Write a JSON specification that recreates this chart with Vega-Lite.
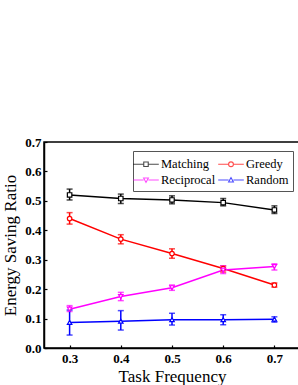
{
  "$schema": "https://vega.github.io/schema/vega-lite/v6.json",
  "autosize": "none",
  "width": 256,
  "height": 206,
  "padding": {"left": 44, "top": 142, "right": 0, "bottom": 37},
  "background": "white",
  "config": {
    "font": "Liberation Serif",
    "view": {"stroke": "black", "strokeWidth": 1.5},
    "axis": {
      "domainColor": "black", "domainWidth": 1.5, "tickColor": "black", "tickWidth": 1.2,
      "grid": false, "labelFont": "Liberation Serif", "labelFontWeight": "bold", "labelFontSize": 13,
      "labelColor": "black", "titleFont": "Liberation Serif", "titleFontWeight": "normal",
      "titleFontSize": 17, "titleColor": "black"
    },
    "legend": {"labelFont": "Liberation Serif"}
  },
  "data": {"values": [
    {"x": 0.3, "series": "Matching", "y": 0.520, "lo": 0.503, "hi": 0.540},
    {"x": 0.4, "series": "Matching", "y": 0.508, "lo": 0.491, "hi": 0.523},
    {"x": 0.5, "series": "Matching", "y": 0.503, "lo": 0.490, "hi": 0.517},
    {"x": 0.6, "series": "Matching", "y": 0.494, "lo": 0.483, "hi": 0.508},
    {"x": 0.7, "series": "Matching", "y": 0.469, "lo": 0.457, "hi": 0.483},
    {"x": 0.3, "series": "Greedy", "y": 0.440, "lo": 0.421, "hi": 0.460},
    {"x": 0.4, "series": "Greedy", "y": 0.370, "lo": 0.354, "hi": 0.385},
    {"x": 0.5, "series": "Greedy", "y": 0.321, "lo": 0.305, "hi": 0.337},
    {"x": 0.6, "series": "Greedy", "y": 0.270, "lo": 0.258, "hi": 0.279},
    {"x": 0.7, "series": "Greedy", "y": 0.214, "lo": 0.207, "hi": 0.221},
    {"x": 0.3, "series": "Reciprocal", "y": 0.132, "lo": 0.124, "hi": 0.144},
    {"x": 0.4, "series": "Reciprocal", "y": 0.175, "lo": 0.161, "hi": 0.189},
    {"x": 0.5, "series": "Reciprocal", "y": 0.205, "lo": 0.196, "hi": 0.214},
    {"x": 0.6, "series": "Reciprocal", "y": 0.265, "lo": 0.253, "hi": 0.279},
    {"x": 0.7, "series": "Reciprocal", "y": 0.277, "lo": 0.265, "hi": 0.286},
    {"x": 0.3, "series": "Random", "y": 0.087, "lo": 0.044, "hi": 0.129},
    {"x": 0.4, "series": "Random", "y": 0.091, "lo": 0.061, "hi": 0.127},
    {"x": 0.5, "series": "Random", "y": 0.096, "lo": 0.078, "hi": 0.118},
    {"x": 0.6, "series": "Random", "y": 0.096, "lo": 0.079, "hi": 0.113},
    {"x": 0.7, "series": "Random", "y": 0.098, "lo": 0.088, "hi": 0.106}
  ]},
  "encoding": {
    "x": {"field": "x", "type": "quantitative", "title": "Task Frequency",
      "scale": {"domain": [0.25, 0.75], "nice": false, "zero": false},
      "axis": {"values": [0.3, 0.4, 0.5, 0.6, 0.7], "format": ".1f", "tickSize": -3, "labelPadding": 7, "titlePadding": 3, "labelFlush": false, "labelFontSize": 13, "labelFontWeight": "bold"}},
    "y": {"field": "y", "type": "quantitative", "title": "Energy Saving Ratio",
      "scale": {"domain": [0, 0.7], "nice": false},
      "axis": {"values": [0, 0.1, 0.2, 0.3, 0.4, 0.5, 0.6, 0.7], "format": ".1f", "tickSize": -3, "labelPadding": 6, "titlePadding": 5, "labelFlush": false, "labelFontSize": 13, "labelFontWeight": "bold"}}
  },
  "layer": [
    {
      "transform": [{"filter": "false"}],
      "mark": {"type": "point", "filled": false, "strokeWidth": 1.1},
      "encoding": {
        "stroke": {"field": "series", "type": "nominal",
          "scale": {"domain": ["Matching", "Greedy", "Reciprocal", "Random"], "range": ["black", "#ff0000", "#ff00ff", "#0000ff"]},
          "legend": {"title": null, "orient": "none", "direction": "horizontal", "legendX": 89, "legendY": 9, "columns": 2,
            "columnPadding": 0, "rowPadding": -1, "padding": 4, "strokeColor": "#555555", "fillColor": "white",
            "symbolSize": 256, "symbolStrokeWidth": 1.1, "symbolFillColor": "white", "labelFont": "Liberation Serif", "labelFontSize": 12.5,
            "labelColor": "black", "labelOffset": 6}},
        "shape": {"field": "series", "type": "nominal",
          "scale": {"domain": ["Matching", "Greedy", "Reciprocal", "Random"],
            "range": [
              "M-1.6,0H-0.28M0.28,0H1.6M-0.28,-0.28H0.28V0.28H-0.28ZM-0.28,-0.28V0.28H0.28V-0.28Z",
              "M-1.6,0H-0.3M0.3,0H1.6M-0.3,0A0.3,0.3 0 1,0 0.3,0A0.3,0.3 0 1,0 -0.3,0ZM-0.3,0A0.3,0.3 0 1,1 0.3,0A0.3,0.3 0 1,1 -0.3,0Z",
              "M-1.6,0H-0.3M0.3,0H1.6M-0.3,-0.25L0.3,-0.25L0,0.3ZM-0.3,-0.25L0,0.3L0.3,-0.25Z",
              "M-1.6,0H-0.3M0.3,0H1.6M-0.3,0.25L0.3,0.25L0,-0.3ZM-0.3,0.25L0,-0.3L0.3,0.25Z"
            ]}}
      }
    },
    {
      "mark": {"type": "line", "strokeWidth": 1.5},
      "encoding": {
        "color": {"field": "series", "type": "nominal", "legend": null,
          "scale": {"domain": ["Matching", "Greedy", "Reciprocal", "Random"], "range": ["black", "#ff0000", "#ff00ff", "#0000ff"]}}
      }
    },
    {
      "mark": {"type": "errorbar", "ticks": {"size": 6, "thickness": 1.5}, "thickness": 1.5},
      "encoding": {
        "y": {"field": "lo", "type": "quantitative"},
        "y2": {"field": "hi"},
        "color": {"field": "series", "type": "nominal", "legend": null}
      }
    },
    {
      "transform": [{"filter": "datum.series == 'Matching'"}],
      "mark": {"type": "point", "shape": "square", "filled": true, "fill": "white", "stroke": "black", "strokeWidth": 1.2, "size": 20, "opacity": 1}
    },
    {
      "transform": [{"filter": "datum.series == 'Greedy'"}],
      "mark": {"type": "point", "shape": "circle", "filled": true, "fill": "white", "stroke": "#ff0000", "strokeWidth": 1.2, "size": 20, "opacity": 1}
    },
    {
      "transform": [{"filter": "datum.series == 'Reciprocal'"}],
      "mark": {"type": "point", "shape": "triangle-down", "filled": true, "fill": "white", "stroke": "#ff00ff", "strokeWidth": 1.2, "size": 20, "opacity": 1}
    },
    {
      "transform": [{"filter": "datum.series == 'Random'"}],
      "mark": {"type": "point", "shape": "triangle-up", "filled": true, "fill": "white", "stroke": "#0000ff", "strokeWidth": 1.2, "size": 20, "opacity": 1}
    }
  ]
}
